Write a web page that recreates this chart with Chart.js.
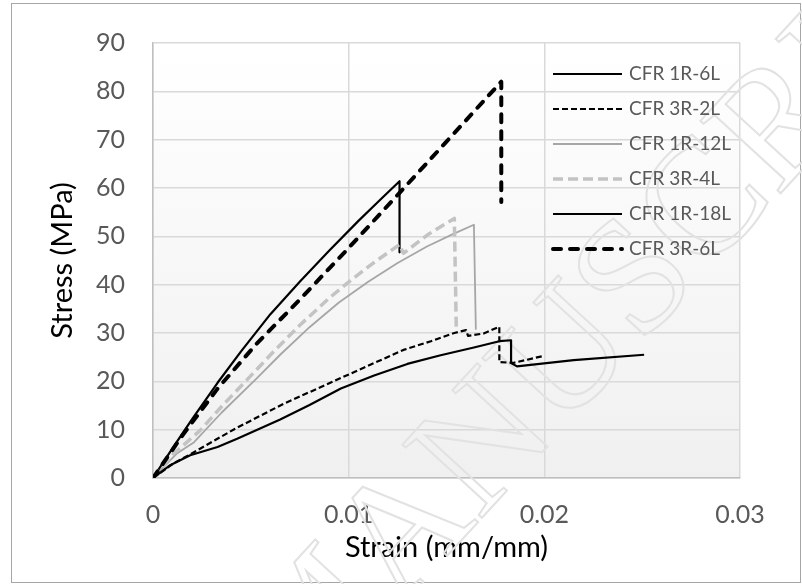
<!DOCTYPE html>
<html>
<head>
<meta charset="utf-8">
<title>Stress-strain curves</title>
<script src="https://cdn.jsdelivr.net/npm/chart.js@4.4.0/dist/chart.umd.min.js"></script>
<style>
  html, body { margin: 0; padding: 0; background: #ffffff; }
  #wrap { width: 802px; height: 584px; }
</style>
</head>
<body>
<div id="wrap"><canvas id="stressChart" width="802" height="584"></canvas></div>
<script>
const seriesNames = ['CFR 1R-6L', 'CFR 3R-2L', 'CFR 1R-12L', 'CFR 3R-4L', 'CFR 1R-18L', 'CFR 3R-6L'];

// strain (mm/mm) and stress (MPa) for each specimen
const strain1R6L = [0, 0.0010, 0.0020, 0.0033, 0.0045, 0.0060, 0.0075, 0.0090, 0.0105, 0.0116, 0.0126, 0.0126];
const stress1R6L = [0, 6.2, 12.2, 19.7, 26.2, 33.9, 40.6, 47.0, 53.2, 57.5, 61.4, 46.7];

const strain3R2L = [0, 0.0010, 0.0019, 0.0042, 0.0067, 0.0101, 0.0128, 0.0142, 0.0154, 0.0160, 0.0161, 0.0169, 0.0177, 0.0177, 0.0184, 0.0200];
const stress3R2L = [0, 2.9, 4.9, 10.2, 15.4, 21.6, 26.5, 28.3, 30.0, 30.6, 29.4, 29.9, 31.3, 24.0, 23.8, 25.3];

const strain1R12L = [0, 0.0012, 0.0021, 0.0035, 0.0053, 0.0065, 0.0080, 0.0095, 0.0110, 0.0125, 0.0140, 0.0153, 0.0164, 0.0165];
const stress1R12L = [0, 5.0, 7.4, 13.5, 20.6, 25.5, 31.2, 36.3, 40.6, 44.5, 47.9, 50.4, 52.4, 30.7];

const strain3R4L = [0, 0.0010, 0.0024, 0.0036, 0.0048, 0.0062, 0.0075, 0.0090, 0.0102, 0.0114, 0.0126, 0.0128, 0.0141, 0.0154, 0.0155];
const stress3R4L = [0, 4.8, 9.8, 15.2, 20.3, 26.3, 31.6, 37.2, 41.2, 44.9, 48.3, 46.5, 50.5, 53.7, 31.0];

const strain1R18L = [0, 0.0009, 0.0019, 0.0033, 0.0043, 0.0065, 0.0080, 0.0096, 0.0113, 0.0130, 0.0147, 0.0164, 0.0177, 0.0183, 0.0183, 0.0186, 0.0215, 0.0251];
const stress1R18L = [0, 2.7, 4.7, 6.4, 8.1, 12.1, 15.1, 18.5, 21.2, 23.6, 25.4, 27.0, 28.3, 28.5, 23.8, 23.1, 24.4, 25.5];

const strain3R6L = [0, 0.0015, 0.0033, 0.0053, 0.0075, 0.0100, 0.0126, 0.0150, 0.0178, 0.0178];
const stress3R6L = [0, 8.8, 18.5, 27.8, 36.9, 47.6, 59.0, 69.6, 82.0, 57.1];

const xTicks = [0, 0.01, 0.02, 0.03];
const yTicks = [0, 10, 20, 30, 40, 50, 60, 70, 80, 90];

const allStrain = [strain1R6L, strain3R2L, strain1R12L, strain3R4L, strain1R18L, strain3R6L];
const allStress = [stress1R6L, stress3R2L, stress1R12L, stress3R4L, stress1R18L, stress3R6L];

// line look per series, same order as seriesNames
const lineStyles = [
    { color: '#000000', width: 2.2, dash: [], cap: 'butt' },
    { color: '#000000', width: 2.2, dash: [6, 3], cap: 'butt' },
    { color: '#a6a6a6', width: 1.8, dash: [], cap: 'butt' },
    { color: '#c3c3c3', width: 3.5, dash: [10, 5], cap: 'butt' },
    { color: '#000000', width: 2.2, dash: [], cap: 'butt' },
    { color: '#000000', width: 4, dash: [8, 9], cap: 'round' }
];

const textGrey = '#595959';
const gridGrey = '#d9d9d9';

function toPoints(xs, ys) {
    return xs.map((x, i) => ({ x: x, y: ys[i] }));
}

const datasets = seriesNames.map((name, i) => ({
    label: name,
    data: toPoints(allStrain[i], allStress[i]),
    showLine: true,
    borderColor: lineStyles[i].color,
    borderWidth: lineStyles[i].width,
    borderDash: lineStyles[i].dash,
    borderCapStyle: lineStyles[i].cap,
    borderJoinStyle: 'round',
    pointRadius: 0,
    tension: 0,
    fill: false,
    order: seriesNames.length - i // later series sit on top
}));

// white page, shaded plot area and thin frame round the whole chart
const backdrop = {
    id: 'backdrop',
    beforeDraw(chart) {
        const { ctx, chartArea, width, height } = chart;
        ctx.save();
        ctx.fillStyle = '#ffffff';
        ctx.fillRect(0, 0, width, height);
        const grad = ctx.createLinearGradient(0, chartArea.top, 0, chartArea.bottom);
        grad.addColorStop(0, '#ffffff');
        grad.addColorStop(1, '#f0f0f0');
        ctx.fillStyle = grad;
        ctx.fillRect(chartArea.left, chartArea.top, chartArea.right - chartArea.left, chartArea.bottom - chartArea.top);
        ctx.strokeStyle = '#a6a6a6';
        ctx.lineWidth = 1;
        ctx.strokeRect(11.5, 3.5, 789, 579);
        ctx.restore();
    }
};

// faint outlined stamp across the figure
const stamp = {
    id: 'stamp',
    beforeDatasetsDraw(chart) {
        const ctx = chart.ctx;
        const text = 'ACCEPTED MANUSCRIPT';
        const angle = -47.4 * Math.PI / 180;
        ctx.save();
        ctx.font = '165px "Liberation Serif"';
        const lead = ctx.measureText('ACCEPTED M').width + ctx.measureText('A').width / 2;
        // centre of the second "A" lands here
        const cx = 398, cy = 528;
        const ox = cx - lead * Math.cos(angle) - 55 * Math.sin(angle);
        const oy = cy - lead * Math.sin(angle) + 55 * Math.cos(angle);
        ctx.translate(ox, oy);
        ctx.rotate(angle);
        ctx.strokeStyle = '#e2e2e2';
        ctx.lineWidth = 2;
        ctx.strokeText(text, 0, 0);
        ctx.restore();
    }
};

// legend drawn inside the plot, on the right
const sideLegend = {
    id: 'sideLegend',
    afterDatasetsDraw(chart) {
        const { ctx, chartArea } = chart;
        const x0 = chartArea.right - 187;
        const y0 = chartArea.top + 31;
        ctx.save();
        ctx.font = '19px Lato';
        ctx.textBaseline = 'middle';
        ctx.textAlign = 'left';
        chart.data.datasets.forEach((ds, i) => {
            const y = y0 + i * 35;
            ctx.beginPath();
            ctx.setLineDash(ds.borderDash);
            ctx.lineCap = ds.borderCapStyle;
            ctx.lineWidth = ds.borderWidth;
            ctx.strokeStyle = ds.borderColor;
            ctx.moveTo(x0, y);
            ctx.lineTo(x0 + 69, y);
            ctx.stroke();
            ctx.setLineDash([]);
            ctx.fillStyle = textGrey;
            ctx.fillText(ds.label, x0 + 76, y);
        });
        ctx.restore();
    }
};

const ctx = document.getElementById('stressChart').getContext('2d');

new Chart(ctx, {
    type: 'scatter',
    data: { datasets: datasets },
    options: {
        responsive: false,
        animation: false,
        layout: { padding: { top: 33, right: 62, left: 0, bottom: 0 } },
        plugins: {
            legend: { display: false },
            tooltip: { enabled: false }
        },
        scales: {
            x: {
                type: 'linear',
                min: 0,
                max: 0.03,
                afterBuildTicks: scale => { scale.ticks = xTicks.map(v => ({ value: v })); },
                afterFit: scale => { scale.height = 106; },
                grid: { color: gridGrey, lineWidth: 1.5, drawTicks: false },
                border: { display: true, color: '#bfbfbf', width: 1.5 },
                ticks: {
                    color: textGrey,
                    font: { family: 'Lato', size: 25 },
                    padding: 22,
                    maxRotation: 0,
                    callback: v => String(Number(v.toFixed(2)))
                },
                title: {
                    display: true,
                    text: 'Strain (mm/mm)',
                    color: '#000000',
                    font: { family: 'Lato', size: 29 },
                    padding: { top: 0, bottom: 19 }
                }
            },
            y: {
                min: 0,
                max: 90,
                afterBuildTicks: scale => { scale.ticks = yTicks.map(v => ({ value: v })); },
                afterFit: scale => { scale.width = 153; },
                grid: { color: gridGrey, lineWidth: 1.5, drawTicks: false },
                border: { display: true, color: '#bfbfbf', width: 1.5 },
                ticks: {
                    color: textGrey,
                    font: { family: 'Lato', size: 25 },
                    padding: 28
                },
                title: {
                    display: true,
                    text: 'Stress (MPa)',
                    color: '#000000',
                    font: { family: 'Lato', size: 29 },
                    padding: { top: 45, bottom: 0 }
                }
            }
        }
    },
    plugins: [backdrop, stamp, sideLegend]
});
</script>
</body>
</html>
